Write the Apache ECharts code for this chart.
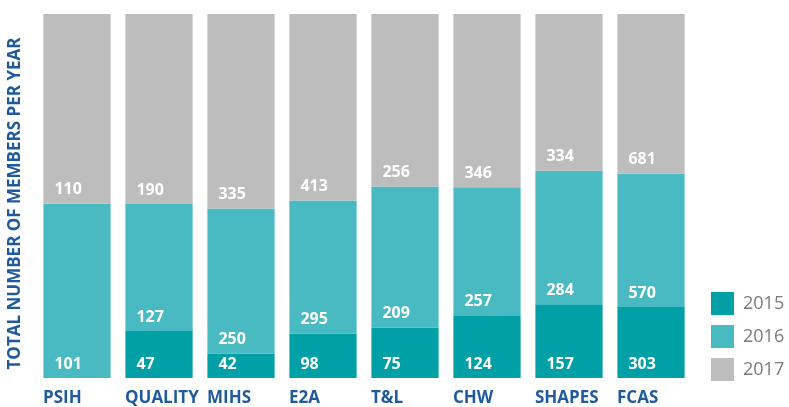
<!DOCTYPE html>
<html>
<head>
<meta charset="utf-8">
<script src="https://cdn.jsdelivr.net/npm/echarts@6/dist/echarts.min.js"></script>
<style>
  html, body { margin: 0; padding: 0; background: #fff; }
  #chart { width: 789px; height: 407px; }
</style>
</head>
<body>
<div id="chart"></div>
<script>
  // raw member counts per programme
  const categories = ['PSIH', 'QUALITY', 'MIHS', 'E2A', 'T&L', 'CHW', 'SHAPES', 'FCAS'];
  const years = ['2015', '2016', '2017'];
  const y2015 = [null, 47, 42, 98, 75, 124, 157, 303];
  const y2016 = [101, 127, 250, 295, 209, 257, 284, 570];
  const y2017 = [110, 190, 335, 413, 256, 346, 334, 681];
  const colors = ['#00a0a6', '#49bac2', '#bdbdbd'];

  const raw = [y2015, y2016, y2017];
  const totals = categories.map((c, i) => raw.reduce((s, arr) => s + (arr[i] || 0), 0));

  let myChart = echarts.init(document.getElementById('chart'));

  const series = years.map((yr, k) => ({
    name: yr,
    type: 'bar',
    stack: 'all',
    barWidth: '82%',
    itemStyle: { color: colors[k] },
    label: {
      show: true,
      position: 'insideBottomLeft',
      distance: 6,
      offset: [5, 0],
      color: '#fff',
      fontFamily: 'Open Sans',
      fontWeight: 'bold',
      fontSize: 16,
      formatter: p => raw[k][p.dataIndex] == null ? '' : String(raw[k][p.dataIndex])
    },
    data: raw[k].map((v, i) => v == null ? null : v / totals[i] * 100)
  }));

  const option = {
    animation: false,
    grid: { left: 36, right: 97, top: 14, bottom: 27 },
    legend: {
      orient: 'vertical',
      left: 711,
      top: 292,
      padding: 0,
      itemWidth: 23,
      itemHeight: 23,
      itemGap: 10,
      icon: 'rect',
      data: years,
      textStyle: { color: '#7a7a7a', fontFamily: 'Open Sans', fontSize: 18, padding: [0, 0, 0, 4] }
    },
    xAxis: {
      type: 'category',
      data: categories,
      axisLine: { show: false },
      axisTick: { show: false },
      axisLabel: {
        interval: 0,
        color: '#1f5b9c',
        fontFamily: 'Open Sans',
        fontWeight: 'bold',
        fontSize: 17,
        margin: 12,
        align: 'left',
        padding: [0, 0, 0, -34]
      }
    },
    yAxis: { type: 'value', min: 0, max: 100, show: false },
    graphic: [{
      type: 'text',
      left: 7,
      top: 'middle',
      rotation: Math.PI / 2,
      style: {
        text: 'TOTAL NUMBER OF MEMBERS PER YEAR',
        fill: '#1f5b9c',
        font: 'bold 17px "Open Sans"'
      }
    }],
    series: series
  };

  myChart.setOption(option);
</script>
</body>
</html>
